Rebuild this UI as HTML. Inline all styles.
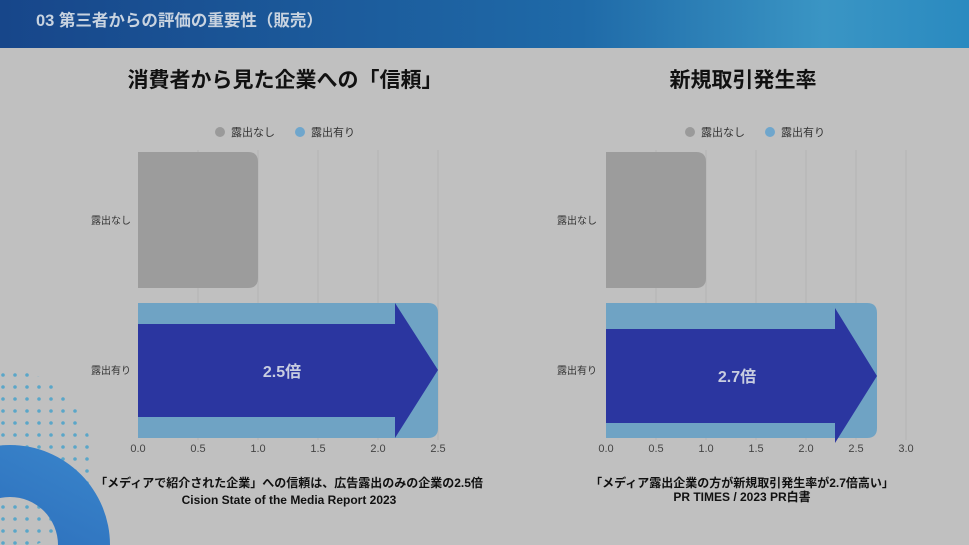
<!DOCTYPE html>
<html><head><meta charset="utf-8"><style>
body{margin:0;width:969px;height:545px;overflow:hidden;background:#c0c0c0;font-family:"Liberation Sans","Noto Sans CJK JP",sans-serif}
</style></head><body>
<svg width="969" height="545" viewBox="0 0 969 545" xmlns="http://www.w3.org/2000/svg" style="display:block;font-family:'Liberation Sans','Noto Sans CJK JP',sans-serif">
<defs>
<linearGradient id="hg" x1="0" y1="0" x2="1" y2="0">
<stop offset="0" stop-color="#17468a"/><stop offset="0.6" stop-color="#1f6aa8"/><stop offset="0.85" stop-color="#3a95c4"/><stop offset="1" stop-color="#2a8ac0"/></linearGradient>
<linearGradient id="rg" x1="0" y1="1" x2="1" y2="0">
<stop offset="0" stop-color="#2a6ab8"/><stop offset="1" stop-color="#3a86cc"/></linearGradient>
<pattern id="dots" width="12" height="12" patternUnits="userSpaceOnUse"><circle cx="3" cy="3" r="1.8" fill="#5aa6c8"/></pattern>
<clipPath id="dc"><circle cx="0" cy="460" r="92"/></clipPath>
</defs>
<rect width="969" height="545" fill="#c0c0c0"/>
<rect width="969" height="48" fill="url(#hg)"/>
<text x="36" y="26" fill="#c8d3e0" font-size="16.5" font-weight="bold">03 第三者からの評価の重要性（販売）</text>
<g clip-path="url(#dc)"><rect x="0" y="330" width="100" height="215" fill="url(#dots)"/></g>
<path d="M-90,545 A100,100 0 0 1 110,545 L58,545 A48,48 0 0 0 -38,545 Z" fill="url(#rg)"/>
<text x="285" y="87" text-anchor="middle" font-size="21" font-weight="bold" fill="#111">消費者から見た企業への「信頼」</text>
<text x="743" y="87" text-anchor="middle" font-size="21" font-weight="bold" fill="#111">新規取引発生率</text>
<g font-size="11" fill="#333">
<circle cx="220" cy="132" r="5" fill="#9a9a9a"/><text x="231" y="136">露出なし</text>
<circle cx="300" cy="132" r="5" fill="#6fa6cc"/><text x="311" y="136">露出有り</text>
<circle cx="690" cy="132" r="5" fill="#9a9a9a"/><text x="701" y="136">露出なし</text>
<circle cx="770" cy="132" r="5" fill="#6fa6cc"/><text x="781" y="136">露出有り</text>
</g>
<g stroke="#b4b4b4" stroke-width="1">
<line x1="198" y1="150" x2="198" y2="440"/><line x1="258" y1="150" x2="258" y2="440"/><line x1="318" y1="150" x2="318" y2="440"/><line x1="378" y1="150" x2="378" y2="440"/><line x1="438" y1="150" x2="438" y2="440"/>
<line x1="656" y1="150" x2="656" y2="440"/><line x1="706" y1="150" x2="706" y2="440"/><line x1="756" y1="150" x2="756" y2="440"/><line x1="806" y1="150" x2="806" y2="440"/><line x1="856" y1="150" x2="856" y2="440"/><line x1="906" y1="150" x2="906" y2="440"/>
</g>
<path d="M138,152 H248 Q258,152 258,162 V278 Q258,288 248,288 H138 Z" fill="#9c9c9c"/>
<path d="M138,303 H428 Q438,303 438,313 V428 Q438,438 428,438 H138 Z" fill="#6fa3c4"/>
<path d="M138,324 H395 V303 L438,370 L395,438 V417 H138 Z" fill="#2b36a0"/>
<text x="282" y="377" text-anchor="middle" font-size="16" font-weight="bold" fill="#c8cde0">2.5倍</text>
<path d="M606,152 H696 Q706,152 706,162 V278 Q706,288 696,288 H606 Z" fill="#9c9c9c"/>
<path d="M606,303 H867 Q877,303 877,313 V428 Q877,438 867,438 H606 Z" fill="#6fa3c4"/>
<path d="M606,329 H835 V308 L877,376 L835,443 V423 H606 Z" fill="#2b36a0"/>
<text x="737" y="382" text-anchor="middle" font-size="16" font-weight="bold" fill="#c8cde0">2.7倍</text>
<g font-size="10" fill="#333">
<text x="111" y="224" text-anchor="middle">露出なし</text>
<text x="111" y="374" text-anchor="middle">露出有り</text>
<text x="577" y="224" text-anchor="middle">露出なし</text>
<text x="577" y="374" text-anchor="middle">露出有り</text>
</g>
<g font-size="11" fill="#444" text-anchor="middle">
<text x="138" y="452">0.0</text><text x="198" y="452">0.5</text><text x="258" y="452">1.0</text><text x="318" y="452">1.5</text><text x="378" y="452">2.0</text><text x="438" y="452">2.5</text>
<text x="606" y="452">0.0</text><text x="656" y="452">0.5</text><text x="706" y="452">1.0</text><text x="756" y="452">1.5</text><text x="806" y="452">2.0</text><text x="856" y="452">2.5</text><text x="906" y="452">3.0</text>
</g>
<g font-size="12" fill="#111" text-anchor="middle" font-weight="bold">
<text x="289" y="487">「メディアで紹介された企業」への信頼は、広告露出のみの企業の2.5倍</text>
<text x="289" y="504">Cision State of the Media Report 2023</text>
<text x="742" y="487">「メディア露出企業の方が新規取引発生率が2.7倍高い」</text>
<text x="742" y="501">PR TIMES / 2023 PR白書</text>
</g>
</svg>
</body></html>
